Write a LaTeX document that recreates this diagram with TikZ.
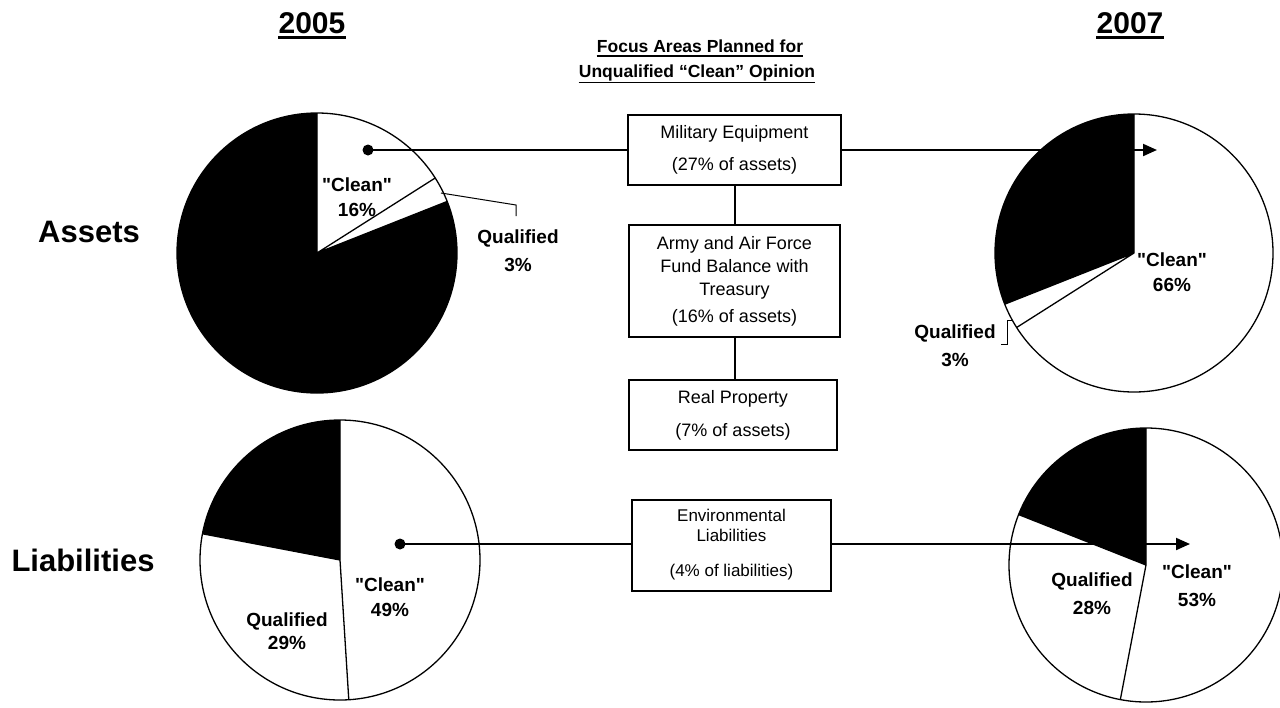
\documentclass[tikz,border=0pt]{standalone}
\usepackage{fontspec}
\setmainfont{Liberation Sans}[Ligatures=TeXOff]
\usetikzlibrary{arrows.meta}
\begin{document}
\begin{tikzpicture}[x=1pt,y=-1pt,
  box/.style={draw, line width=2pt, inner sep=0pt, align=center, font=\fontsize{18}{22}\selectfont},
  plab/.style={font=\bfseries\fontsize{19}{25}\selectfont, align=center, inner sep=0pt},
  rowlab/.style={font=\bfseries\fontsize{31}{36}\selectfont, inner sep=0pt},
  yearlab/.style={font=\bfseries\fontsize{30}{36}\selectfont, inner sep=0pt},
  ttl/.style={font=\bfseries\fontsize{17.5}{21}\selectfont, inner sep=0pt},
  conn/.style={line width=2pt},
  rim/.style={line width=1.3pt},
  leader/.style={line width=1pt},
  tip/.style={-{Triangle[length=14pt,width=12pt]}}
]
\useasboundingbox (0,0) rectangle (1280,707);

% ---------- pies ----------
% Assets 2005
\coordinate (pa5) at (317,253);
\fill (pa5) -- ++(-90:140) arc[start angle=-90,end angle=-381.6,radius=140] -- cycle;
\draw[rim] (pa5) circle[radius=140];
\draw[rim] (pa5) -- ++(-90:140) (pa5) -- ++(-32.4:140) (pa5) -- ++(-21.6:140);
% Assets 2007
\coordinate (pa7) at (1134,253);
\fill (pa7) -- ++(-90:139) arc[start angle=-90,end angle=-201.6,radius=139] -- cycle;
\draw[rim] (pa7) circle[radius=139];
\draw[rim] (pa7) -- ++(-90:139) (pa7) -- ++(-201.6:139) (pa7) -- ++(-212.4:139);
% Liabilities 2005
\coordinate (pl5) at (340,560);
\fill (pl5) -- ++(-90:140) arc[start angle=-90,end angle=-169.2,radius=140] -- cycle;
\draw[rim] (pl5) circle[radius=140];
\draw[rim] (pl5) -- ++(-90:140) (pl5) -- ++(-169.2:140) (pl5) -- ++(86.4:140);
% Liabilities 2007
\coordinate (pl7) at (1146,565);
\fill (pl7) -- ++(-90:137) arc[start angle=-90,end angle=-158.4,radius=137] -- cycle;
\draw[rim] (pl7) circle[radius=137];
\draw[rim] (pl7) -- ++(-90:137) (pl7) -- ++(-158.4:137) (pl7) -- ++(100.8:137);

% ---------- headers ----------
\node[yearlab] (y05) at (312,23) {2005};
\draw[line width=3pt] ([yshift=-4pt]y05.base west) -- ([yshift=-4pt]y05.base east);
\node[yearlab] (y07) at (1130,23) {2007};
\draw[line width=3pt] ([yshift=-4pt]y07.base west) -- ([yshift=-4pt]y07.base east);
\node[ttl] (t1) at (700,46) {Focus Areas Planned for};
\draw[line width=1.6pt] ([yshift=-4pt]t1.base west) -- ([yshift=-4pt]t1.base east);
\node[ttl] (t2) at (697,73) {Unqualified “Clean” Opinion};
\draw[line width=1.6pt] ([yshift=-5pt]t2.base west) -- ([yshift=-5pt]t2.base east);

\node[rowlab] (ass) at (89,232) {Assets};
\node[rowlab] (lia) at (83,560) {Liabilities};

% ---------- boxes ----------
\node[box, minimum width=213pt, minimum height=70pt] (me) at (734.5,150)
  {Military Equipment\\[10pt](27\% of assets)};
\node[box, minimum width=211pt, minimum height=112pt] (army) at (734.5,281)
  {Army and Air Force\\[1pt]Fund Balance with\\[1pt]Treasury\\[5pt](16\% of assets)};
\node[box, minimum width=208pt, minimum height=70pt] (real) at (733,415)
  {Real Property\\[11pt](7\% of assets)};
\node[box, minimum width=199pt, minimum height=91pt, font=\fontsize{17}{20}\selectfont] (env) at (731.5,545)
  {Environmental\\Liabilities\\[15pt](4\% of liabilities)};

% ---------- connectors ----------
\coordinate (d1) at (368,150);
\coordinate (a1) at (1157,150);
\fill (d1) circle[radius=5.5];
\draw[conn] (d1) -- (me.west);
\draw[conn,tip] (me.east) -- (a1);
\draw[conn] (me.south) -- (army.north);
\draw[conn] (army.south) -- (army.south |- real.north);

\coordinate (d2) at (400,544);
\coordinate (a2) at (1190,544);
\fill (d2) circle[radius=5.5];
\draw[conn] (d2) -- (d2 -| env.west);
\draw[conn,tip] (a2 -| env.east) -- (a2);

% ---------- leaders ----------
\draw[leader] (441,193) -- (516,205) -- (516,216);
\draw[leader] (1012,320) -- (1007,320) -- (1007,344) -- (1001,344);

% ---------- pie labels ----------
\node[plab] (c16) at (357,197) {"Clean"\\16\%};
\node[plab] (q3a) at (518,251) {Qualified\\[3pt]3\%};
\node[plab] (c66) at (1172,272) {"Clean"\\66\%};
\node[plab] (q3b) at (955,346) {Qualified\\[3pt]3\%};
\node[plab] (c49) at (390,597) {"Clean"\\49\%};
\node[plab] (q29) at (287,631) {Qualified\\[-2pt]29\%};
\node[plab] (c53) at (1197,586) {"Clean"\\[3pt]53\%};
\node[plab] (q28) at (1092,594) {Qualified\\[3pt]28\%};
\end{tikzpicture}
\end{document}
